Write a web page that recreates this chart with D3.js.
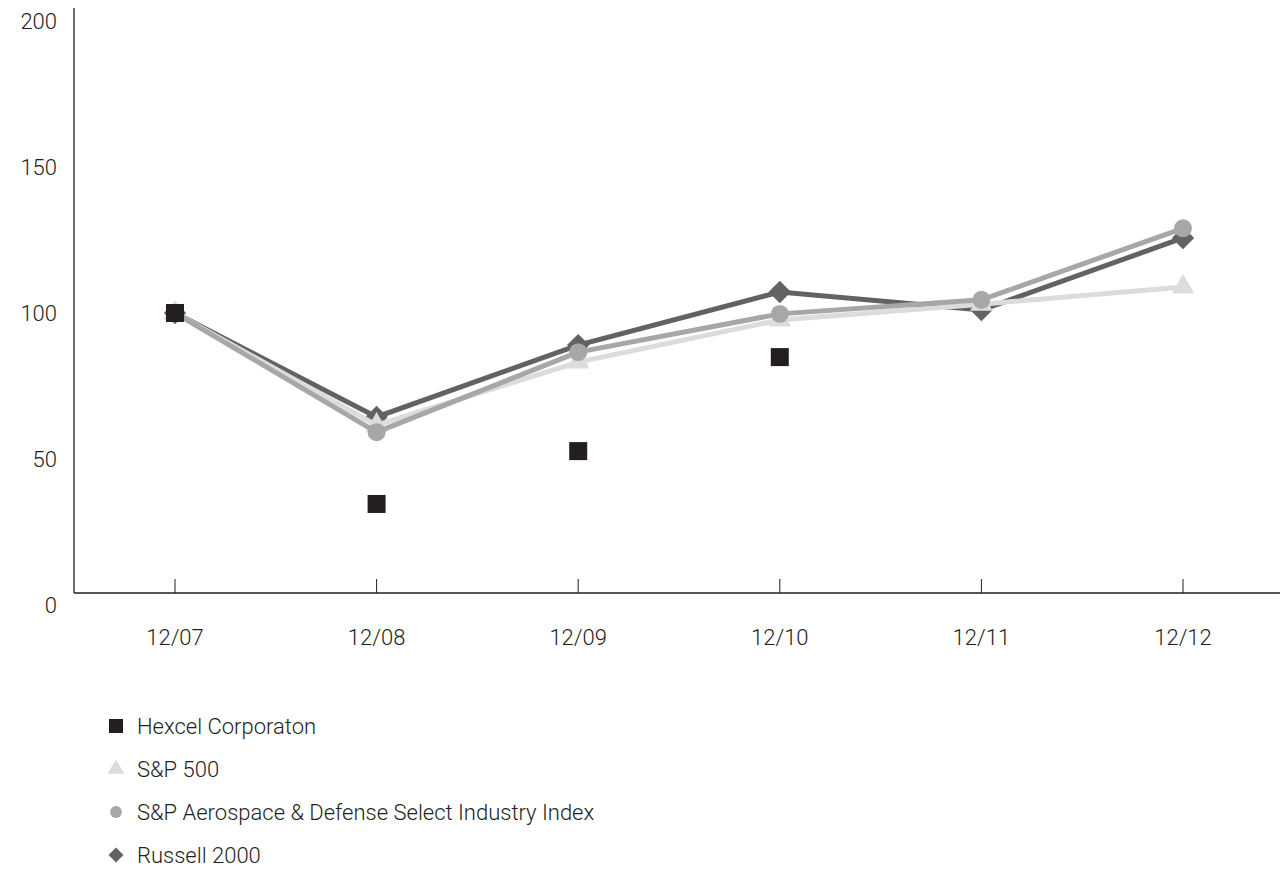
<!DOCTYPE html>
<html>
<head>
<meta charset="utf-8">
<script src="https://cdn.jsdelivr.net/npm/d3@7"></script>
<style>
  body { margin: 0; background: #fff; }
  text { font-family: Roboto, "Liberation Sans", sans-serif; fill: #231f20; }
</style>
</head>
<body>
<div id="chart"></div>
<script>
// data
var periods = ["12/07", "12/08", "12/09", "12/10", "12/11", "12/12"];
var yTicks = [0, 50, 100, 150, 200];
var hexcel = [100, 34.6, 52.7, 84.9, null, null];
var sp500 = [100, 61.6, 83.2, 97.6, 103, 108.9];
var aeroDefense = [100, 59.2, 86.6, 99.7, 104.5, 129];
var russell2000 = [100, 64.4, 89, 107.2, 101, 125.7];
var seriesNames = ["Hexcel Corporaton", "S&P 500", "S&P Aerospace & Defense Select Industry Index", "Russell 2000"];

var W = 1280, H = 870;
var svg = d3.select("#chart").append("svg")
	.attr("width", W)
	.attr("height", H);

var x = d3.scalePoint()
	.domain(periods)
	.range([175, 1183]);

var y = d3.scaleLinear()
	.domain([0, 200])
	.range([605, 21]);

var axisY = 593; // x axis line sits a bit above zero label
var axisX = 74;

// square rotated 45deg, d3's own diamond is too tall
var diamond = {
	draw: function(ctx, size) {
		var r = Math.sqrt(size / 2);
		ctx.moveTo(0, -r);
		ctx.lineTo(r, 0);
		ctx.lineTo(0, r);
		ctx.lineTo(-r, 0);
		ctx.closePath();
	}
};

// y axis line + labels
svg.append("line")
	.attr("x1", axisX).attr("x2", axisX)
	.attr("y1", 8).attr("y2", axisY)
	.style("stroke", "#231f20").style("stroke-width", 1.3);

svg.selectAll(".ylab")
	.data(yTicks)
	.enter().append("text")
	.attr("class", "ylab")
	.attr("x", 57)
	.attr("y", function(d) { return y(d); })
	.attr("dy", "0.35em")
	.attr("text-anchor", "end")
	.style("font-size", "22px")
	.style("font-weight", 300)
	.text(function(d) { return d; });

// x axis line + ticks
svg.append("line")
	.attr("x1", axisX).attr("x2", W)
	.attr("y1", axisY).attr("y2", axisY)
	.style("stroke", "#231f20").style("stroke-width", 1.3);

svg.selectAll(".xtick")
	.data(periods)
	.enter().append("line")
	.attr("class", "xtick")
	.attr("x1", function(d) { return x(d); })
	.attr("x2", function(d) { return x(d); })
	.attr("y1", axisY - 14).attr("y2", axisY)
	.style("stroke", "#231f20").style("stroke-width", 1);

svg.selectAll(".xlab")
	.data(periods)
	.enter().append("text")
	.attr("class", "xlab")
	.attr("x", function(d) { return x(d); })
	.attr("y", 637)
	.attr("dy", "0.35em")
	.attr("text-anchor", "middle")
	.style("font-size", "22px")
	.style("font-weight", 300)
	.text(function(d) { return d; });

// series, bottom to top drawing order
var series = [
	{ name: seriesNames[3], values: russell2000, color: "#626262", sym: diamond, size: 250, line: true },
	{ name: seriesNames[1], values: sp500, color: "#dcdcdc", sym: d3.symbolTriangle, size: 220, line: true },
	{ name: seriesNames[2], values: aeroDefense, color: "#a7a7a9", sym: d3.symbolCircle, size: 254, line: true },
	{ name: seriesNames[0], values: hexcel, color: "#231f20", sym: d3.symbolSquare, size: 324, line: false }
];

var lineGen = d3.line()
	.defined(function(d) { return d.v != null; })
	.x(function(d) { return x(d.p); })
	.y(function(d) { return y(d.v); });

series.forEach(function(s) {
	var pts = s.values.map(function(v, i) { return { p: periods[i], v: v }; });
	var g = svg.append("g");
	if (s.line) {
		g.append("path")
			.datum(pts)
			.attr("d", lineGen)
			.style("fill", "none")
			.style("stroke", s.color)
			.style("stroke-width", 5)
			.style("stroke-linejoin", "miter");
	}
	g.selectAll("path.mark")
		.data(pts.filter(function(d) { return d.v != null; }))
		.enter().append("path")
		.attr("class", "mark")
		.attr("transform", function(d) { return "translate(" + x(d.p) + "," + y(d.v) + ")"; })
		.attr("d", d3.symbol().type(s.sym).size(s.size))
		.style("fill", s.color);
});

// legend
var legend = [
	{ name: seriesNames[0], color: "#231f20", sym: d3.symbolSquare, size: 196 },
	{ name: seriesNames[1], color: "#dcdcdc", sym: d3.symbolTriangle, size: 120 },
	{ name: seriesNames[2], color: "#a7a7a9", sym: d3.symbolCircle, size: 110 },
	{ name: seriesNames[3], color: "#626262", sym: diamond, size: 110 }
];

var lg = svg.selectAll(".leg")
	.data(legend)
	.enter().append("g")
	.attr("class", "leg")
	.attr("transform", function(d, i) { return "translate(116," + (726 + i * 43) + ")"; });

lg.append("path")
	.attr("d", function(d) { return d3.symbol().type(d.sym).size(d.size)(); })
	.style("fill", function(d) { return d.color; });

lg.append("text")
	.attr("x", 21)
	.attr("dy", "0.35em")
	.style("font-size", "22px")
	.style("font-weight", 300)
	.text(function(d) { return d.name; });
</script>
</body>
</html>
